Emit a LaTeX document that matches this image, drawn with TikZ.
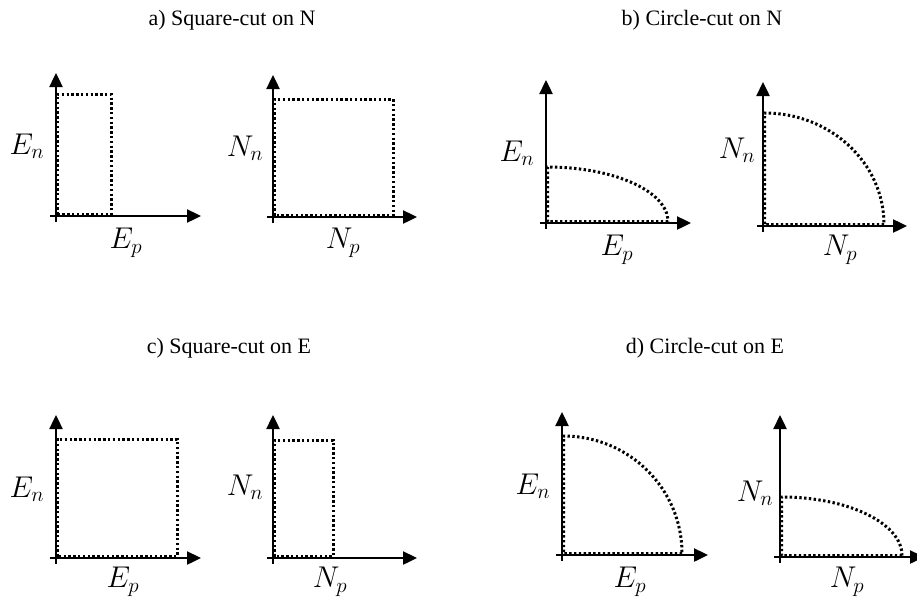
\documentclass[tikz,border=0pt]{standalone}
\usepackage{fontspec}
\usepackage{fix-cm}
\setmainfont{Liberation Serif}
\usetikzlibrary{arrows.meta}
\begin{document}
\begin{tikzpicture}[x=1pt,y=-1pt,
  axis/.style={line width=2.4pt,-{Triangle[length=14pt,width=13pt]}},
  cut/.style={line width=3pt,dash pattern=on 2.4pt off 2.4pt},
  lab/.style={inner sep=0pt,font=\fontsize{30}{36}\selectfont},
  ttl/.style={inner sep=0pt,font=\fontsize{22}{26}\selectfont}]
\useasboundingbox (0,0) rectangle (917,597);
% titles
\node[ttl] (ta) at (232,20) {a) Square-cut on N};
\node[ttl] (tb) at (702,20) {b) Circle-cut on N};
\node[ttl] (tc) at (229,348) {c) Square-cut on E};
\node[ttl] (td) at (705,348) {d) Circle-cut on E};
% ---- a1
\coordinate (oa1) at (56,216);
\draw[axis] ([yshift=-6pt]oa1) -- ++(0,-149);
\draw[axis] ([xshift=-6pt]oa1) -- ++(151,0);
\draw[cut] ([shift={(1.5,-1.5)}]oa1) rectangle ++(53.5,-120.5);
\node[lab] (a1n) at (27,146) {$E_n$};
\node[lab] (a1p) at (126,243) {$E_p$};
% ---- a2
\coordinate (oa2) at (273,217);
\draw[axis] ([yshift=-6pt]oa2) -- ++(0,-148);
\draw[axis] ([xshift=-6pt]oa2) -- ++(150,0);
\draw[cut] ([shift={(1.5,-1.5)}]oa2) rectangle ++(118.5,-116.5);
\node[lab] (a2n) at (245,148) {$N_n$};
\node[lab] (a2p) at (343,243) {$N_p$};
% ---- b1
\coordinate (ob1) at (546,223);
\draw[axis] ([yshift=-6pt]ob1) -- ++(0,-149);
\draw[axis] ([xshift=-6pt]ob1) -- ++(151,0);
\draw[cut] ([shift={(122,-1.5)}]ob1) -- ([shift={(1.5,-1.5)}]ob1) -- ([shift={(1.5,-56)}]ob1) arc[start angle=90,end angle=0,x radius=120.5,y radius=-54.5];
\node[lab] (b1n) at (517,153) {$E_n$};
\node[lab] (b1p) at (617,250) {$E_p$};
% ---- b2
\coordinate (ob2) at (763,226);
\draw[axis] ([yshift=-6pt]ob2) -- ++(0,-150);
\draw[axis] ([xshift=-6pt]ob2) -- ++(150,0);
\draw[cut] ([shift={(121,-1.5)}]ob2) -- ([shift={(1.5,-1.5)}]ob2) -- ([shift={(1.5,-113)}]ob2) arc[start angle=90,end angle=0,x radius=119.5,y radius=-111.5];
\node[lab] (b2n) at (737,150) {$N_n$};
\node[lab] (b2p) at (840,250) {$N_p$};
% ---- c1
\coordinate (oc1) at (56,558);
\draw[axis] ([yshift=-6pt]oc1) -- ++(0,-149);
\draw[axis] ([xshift=-6pt]oc1) -- ++(151,0);
\draw[cut] ([shift={(1.5,-1.5)}]oc1) rectangle ++(119.5,-117.5);
\node[lab] (c1n) at (27,489) {$E_n$};
\node[lab] (c1p) at (123,582) {$E_p$};
% ---- c2
\coordinate (oc2) at (273,558);
\draw[axis] ([yshift=-6pt]oc2) -- ++(0,-149);
\draw[axis] ([xshift=-6pt]oc2) -- ++(150,0);
\draw[cut] ([shift={(1.5,-1.5)}]oc2) rectangle ++(58.5,-116.5);
\node[lab] (c2n) at (245,487) {$N_n$};
\node[lab] (c2p) at (330,582) {$N_p$};
% ---- d1
\coordinate (od1) at (562,555);
\draw[axis] ([yshift=-6pt]od1) -- ++(0,-149);
\draw[axis] ([xshift=-6pt]od1) -- ++(152,0);
\draw[cut] ([shift={(120,-1.5)}]od1) -- ([shift={(1.5,-1.5)}]od1) -- ([shift={(1.5,-119)}]od1) arc[start angle=90,end angle=0,x radius=118.5,y radius=-117.5];
\node[lab] (d1n) at (533,486) {$E_n$};
\node[lab] (d1p) at (630,582) {$E_p$};
% ---- d2
\coordinate (od2) at (780,557);
\draw[axis] ([yshift=-6pt]od2) -- ++(0,-148);
\draw[axis] ([xshift=-6pt]od2) -- ++(150,0);
\draw[cut] ([shift={(122,-1.5)}]od2) -- ([shift={(1.5,-1.5)}]od2) -- ([shift={(1.5,-60)}]od2) arc[start angle=90,end angle=0,x radius=120.5,y radius=-58.5];
\node[lab] (d2n) at (755,493) {$N_n$};
\node[lab] (d2p) at (847,582) {$N_p$};
\end{tikzpicture}
\end{document}
